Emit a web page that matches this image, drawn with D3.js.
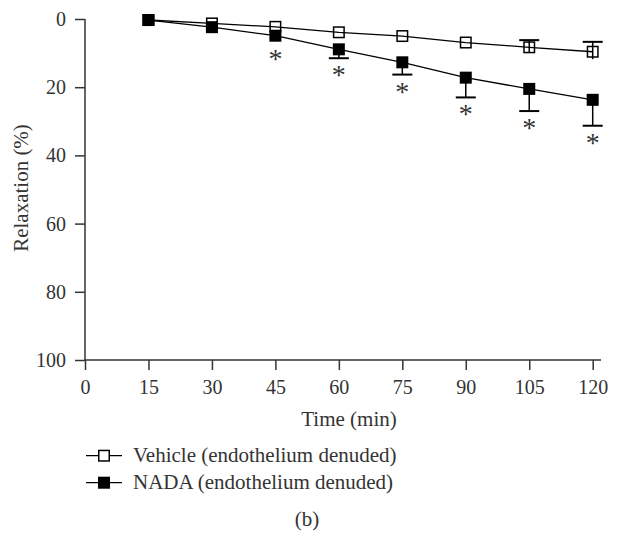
<!DOCTYPE html>
<html>
<head>
<meta charset="UTF-8">
<script src="https://d3js.org/d3.v7.min.js"></script>
<style>
  body { margin: 0; background: #fff; }
  text { font-family: "Liberation Serif", "Times New Roman", serif; fill: #333; }
</style>
</head>
<body>
<svg id="chart" width="623" height="537"></svg>
<script>
// data
const times = [15, 30, 45, 60, 75, 90, 105, 120];
const vehicle = [0.3, 1.3, 2.3, 3.9, 5.0, 6.9, 8.3, 9.6];
const vehicleErr = [0, 0, 0, 0, 0, 0, 2.1, 2.9];
const nada = [0.3, 2.4, 4.9, 8.9, 12.7, 17.2, 20.5, 23.7];
const nadaErr = [0, 0, 0, 2.6, 3.6, 5.8, 6.5, 7.6];
const starred = [45, 60, 75, 90, 105, 120];
const xTicks = [0, 15, 30, 45, 60, 75, 90, 105, 120];
const yTicks = [0, 20, 40, 60, 80, 100];

const svg = d3.select("#chart");
const x = d3.scaleLinear().domain([0, 120]).range([85, 592.7]);
const y = d3.scaleLinear().domain([0, 100]).range([19, 360]);
const sq = 12;

// axes
const yAxis = svg.append("g")
  .attr("transform", "translate(85,0)")
  .call(d3.axisLeft(y).tickValues(yTicks).tickSize(10).tickSizeOuter(0).tickPadding(9));
const xAxis = svg.append("g")
  .attr("transform", "translate(0,360)")
  .call(d3.axisBottom(x).tickValues(xTicks).tickSize(10).tickSizeOuter(0).tickPadding(10));
[xAxis, yAxis].forEach(g => {
  g.select(".domain").remove();
  g.selectAll("line").attr("stroke", "#333").attr("stroke-width", 1.5);
  g.selectAll("text").attr("font-size", 20).attr("font-family", "Liberation Serif").attr("fill", "#333");
});
svg.append("line").attr("x1", 85).attr("x2", 85).attr("y1", y(0)).attr("y2", y(100))
  .attr("stroke", "#333").attr("stroke-width", 1.5);
svg.append("line").attr("x1", 85).attr("x2", 601).attr("y1", y(100)).attr("y2", y(100))
  .attr("stroke", "#333").attr("stroke-width", 1.5);

// axis titles
svg.append("text").attr("x", 349).attr("y", 426).attr("text-anchor", "middle")
  .attr("font-size", 21).text("Time (min)");
svg.append("text").attr("transform", "translate(28,188) rotate(-90)").attr("text-anchor", "middle")
  .attr("font-size", 21).text("Relaxation (%)");

const line = d3.line().x((d, i) => x(times[i])).y(d => y(d));

// vehicle error bars (upward caps)
times.forEach((t, i) => {
  if (!vehicleErr[i]) return;
  const cx = x(t);
  svg.append("line").attr("x1", cx).attr("x2", cx)
    .attr("y1", y(vehicle[i] - vehicleErr[i])).attr("y2", y(vehicle[i] + vehicleErr[i] * 0.75))
    .attr("stroke", "#000").attr("stroke-width", 1.5);
  svg.append("line").attr("x1", cx - 10).attr("x2", cx + 10)
    .attr("y1", y(vehicle[i] - vehicleErr[i])).attr("y2", y(vehicle[i] - vehicleErr[i]))
    .attr("stroke", "#000").attr("stroke-width", 2);
});
// nada error bars (downward caps)
times.forEach((t, i) => {
  if (!nadaErr[i]) return;
  const cx = x(t);
  svg.append("line").attr("x1", cx).attr("x2", cx)
    .attr("y1", y(nada[i])).attr("y2", y(nada[i] + nadaErr[i]))
    .attr("stroke", "#000").attr("stroke-width", 1.5);
  svg.append("line").attr("x1", cx - 10).attr("x2", cx + 10)
    .attr("y1", y(nada[i] + nadaErr[i])).attr("y2", y(nada[i] + nadaErr[i]))
    .attr("stroke", "#000").attr("stroke-width", 2);
});

svg.append("path").attr("d", line(vehicle)).attr("fill", "none").attr("stroke", "#000").attr("stroke-width", 1.3);
svg.append("path").attr("d", line(nada)).attr("fill", "none").attr("stroke", "#000").attr("stroke-width", 1.3);

svg.selectAll(".veh").data(vehicle).enter().append("rect")
  .attr("x", (d, i) => x(times[i]) - sq / 2 + 0.75).attr("y", d => y(d) - sq / 2 + 0.75)
  .attr("width", sq - 1.5).attr("height", sq - 1.5)
  .attr("fill", "none").attr("stroke", "#000").attr("stroke-width", 1.5);
svg.selectAll(".nada").data(nada).enter().append("rect")
  .attr("x", (d, i) => x(times[i]) - sq / 2).attr("y", d => y(d) - sq / 2)
  .attr("width", sq).attr("height", sq).attr("fill", "#000");

// significance asterisks
starred.forEach(t => {
  const i = times.indexOf(t);
  const bottom = Math.max(y(nada[i] + nadaErr[i]), y(nada[i]) + sq / 2);
  svg.append("text").attr("x", x(t)).attr("y", bottom + 26).attr("text-anchor", "middle")
    .attr("font-size", 28).attr("fill", "#666").text("*");
});

// legend
const legend = [
  { label: "Vehicle (endothelium denuded)", filled: false, y: 455.7 },
  { label: "NADA (endothelium denuded)", filled: true, y: 482.7 }
];
legend.forEach(l => {
  svg.append("line").attr("x1", 86).attr("x2", 122).attr("y1", l.y).attr("y2", l.y)
    .attr("stroke", "#000").attr("stroke-width", 1.3);
  if (l.filled) {
    svg.append("rect").attr("x", 104 - sq / 2).attr("y", l.y - sq / 2).attr("width", sq).attr("height", sq).attr("fill", "#000");
  } else {
    svg.append("rect").attr("x", 104 - sq / 2 + 0.75).attr("y", l.y - sq / 2 + 0.75)
      .attr("width", sq - 1.5).attr("height", sq - 1.5).attr("fill", "#fff").attr("stroke", "#000").attr("stroke-width", 1.5);
  }
  svg.append("text").attr("x", 133).attr("y", l.y + 6).attr("font-size", 21).text(l.label);
});

svg.append("text").attr("x", 307).attr("y", 526).attr("text-anchor", "middle").attr("font-size", 21).text("(b)");
</script>
</body>
</html>
